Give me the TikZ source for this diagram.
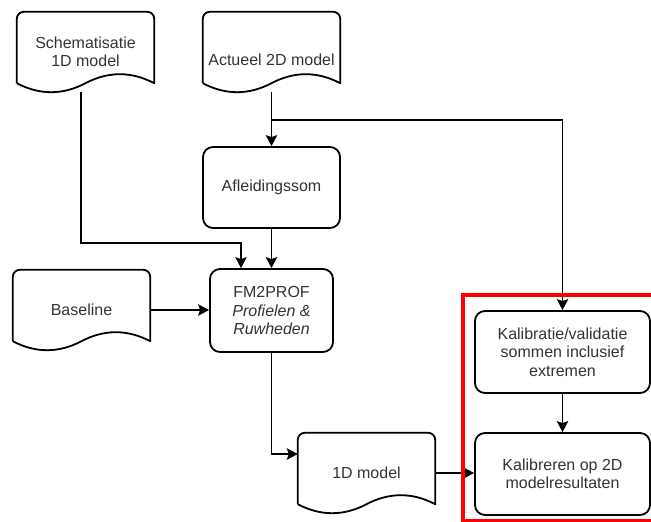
\documentclass[tikz,border=0pt]{standalone}
\usepackage{fontspec}
\setmainfont{Liberation Sans}
\usetikzlibrary{arrows.meta,calc}
\definecolor{txt}{HTML}{333333}
\tikzset{
  shp/.style={line width=1.8pt, line join=round},
  lbl/.style={inner sep=0pt, align=center, text=txt, font=\fontsize{16}{18.5}\selectfont},
  boxnode/.style={lbl, draw, shp, rounded corners=10pt, fill=white},
  docnode/.style={lbl, minimum width=137pt, minimum height=80pt},
  conn/.style={line width=1.2pt, -{Stealth[length=11pt,width=11.5pt,inset=2pt]}},
  frame/.style={draw=red, line width=4pt}
}
% outline of a document shape: rounded top, wavy bottom
\newcommand\docoutline[1]{%
  \draw[shp] ([yshift=9pt]#1.south west) -- ([yshift=-7pt]#1.north west)
    arc[start angle=180,end angle=90,radius=7pt] -- ([xshift=-7pt]#1.north east)
    arc[start angle=90,end angle=0,radius=7pt] -- ([yshift=9pt]#1.south east)
    .. controls +(-22.8,-12) and +(22.8,-12) .. ([yshift=9pt]#1.south)
    .. controls +(-22.8,12) and +(22.8,12) .. ([yshift=9pt]#1.south west);}
\begin{document}
\begin{tikzpicture}[x=1pt,y=-1pt]
\useasboundingbox (0,0) rectangle (651,522);
\clip (0,0) rectangle (651,522);

% documents
\node[docnode] (sch) at (85.5,52) {Schematisatie\\1D model};
\docoutline{sch}
\node[docnode] (act) at (271.5,52) {};
\node[lbl] (acttext) at (271.5,60) {Actueel 2D model};
\docoutline{act}
\node[docnode] (base) at (81.5,310) {Baseline};
\docoutline{base}
\node[docnode] (d1) at (366.5,473) {1D model};
\docoutline{d1}

% process steps
\node[boxnode, minimum width=137pt, minimum height=81pt] (afl) at (271.5,187.5) {Afleidingssom};
\node[boxnode, minimum width=123pt, minimum height=83pt] (fm) at (271.5,310.5)
  {FM2PROF\\\textit{Profielen \&}\\\textit{Ruwheden}};
\node[boxnode, minimum width=175pt, minimum height=82pt] (kal) at (562.5,352)
  {Kalibratie/validatie\\sommen inclusief\\extremen};
\node[boxnode, minimum width=175pt, minimum height=82pt] (kb) at (562.5,474)
  {Kalibreren op 2D\\modelresultaten};

% connectors
\coordinate (jact) at (271.5,120);
\coordinate (jsch) at (241,243);
\draw[conn] (act.south) -- (afl.north);
\draw[conn] (jact) -| (kal.north);
\draw[conn] ([xshift=-4.5pt]sch.south) |- (jsch) -- (jsch |- fm.north);
\draw[conn] (afl.south) -- (fm.north);
\draw[conn] (base.east) -- (base.east -| fm.west);
\draw[conn] (fm.south) |- ([yshift=19pt]d1.west);
\draw[conn] (d1.east) -- (d1.east -| kb.west);
\draw[conn] (kal.south) -- (kb.north);

% highlight frame
\draw[frame] (463,295) rectangle (700,520.5);
\end{tikzpicture}
\end{document}
